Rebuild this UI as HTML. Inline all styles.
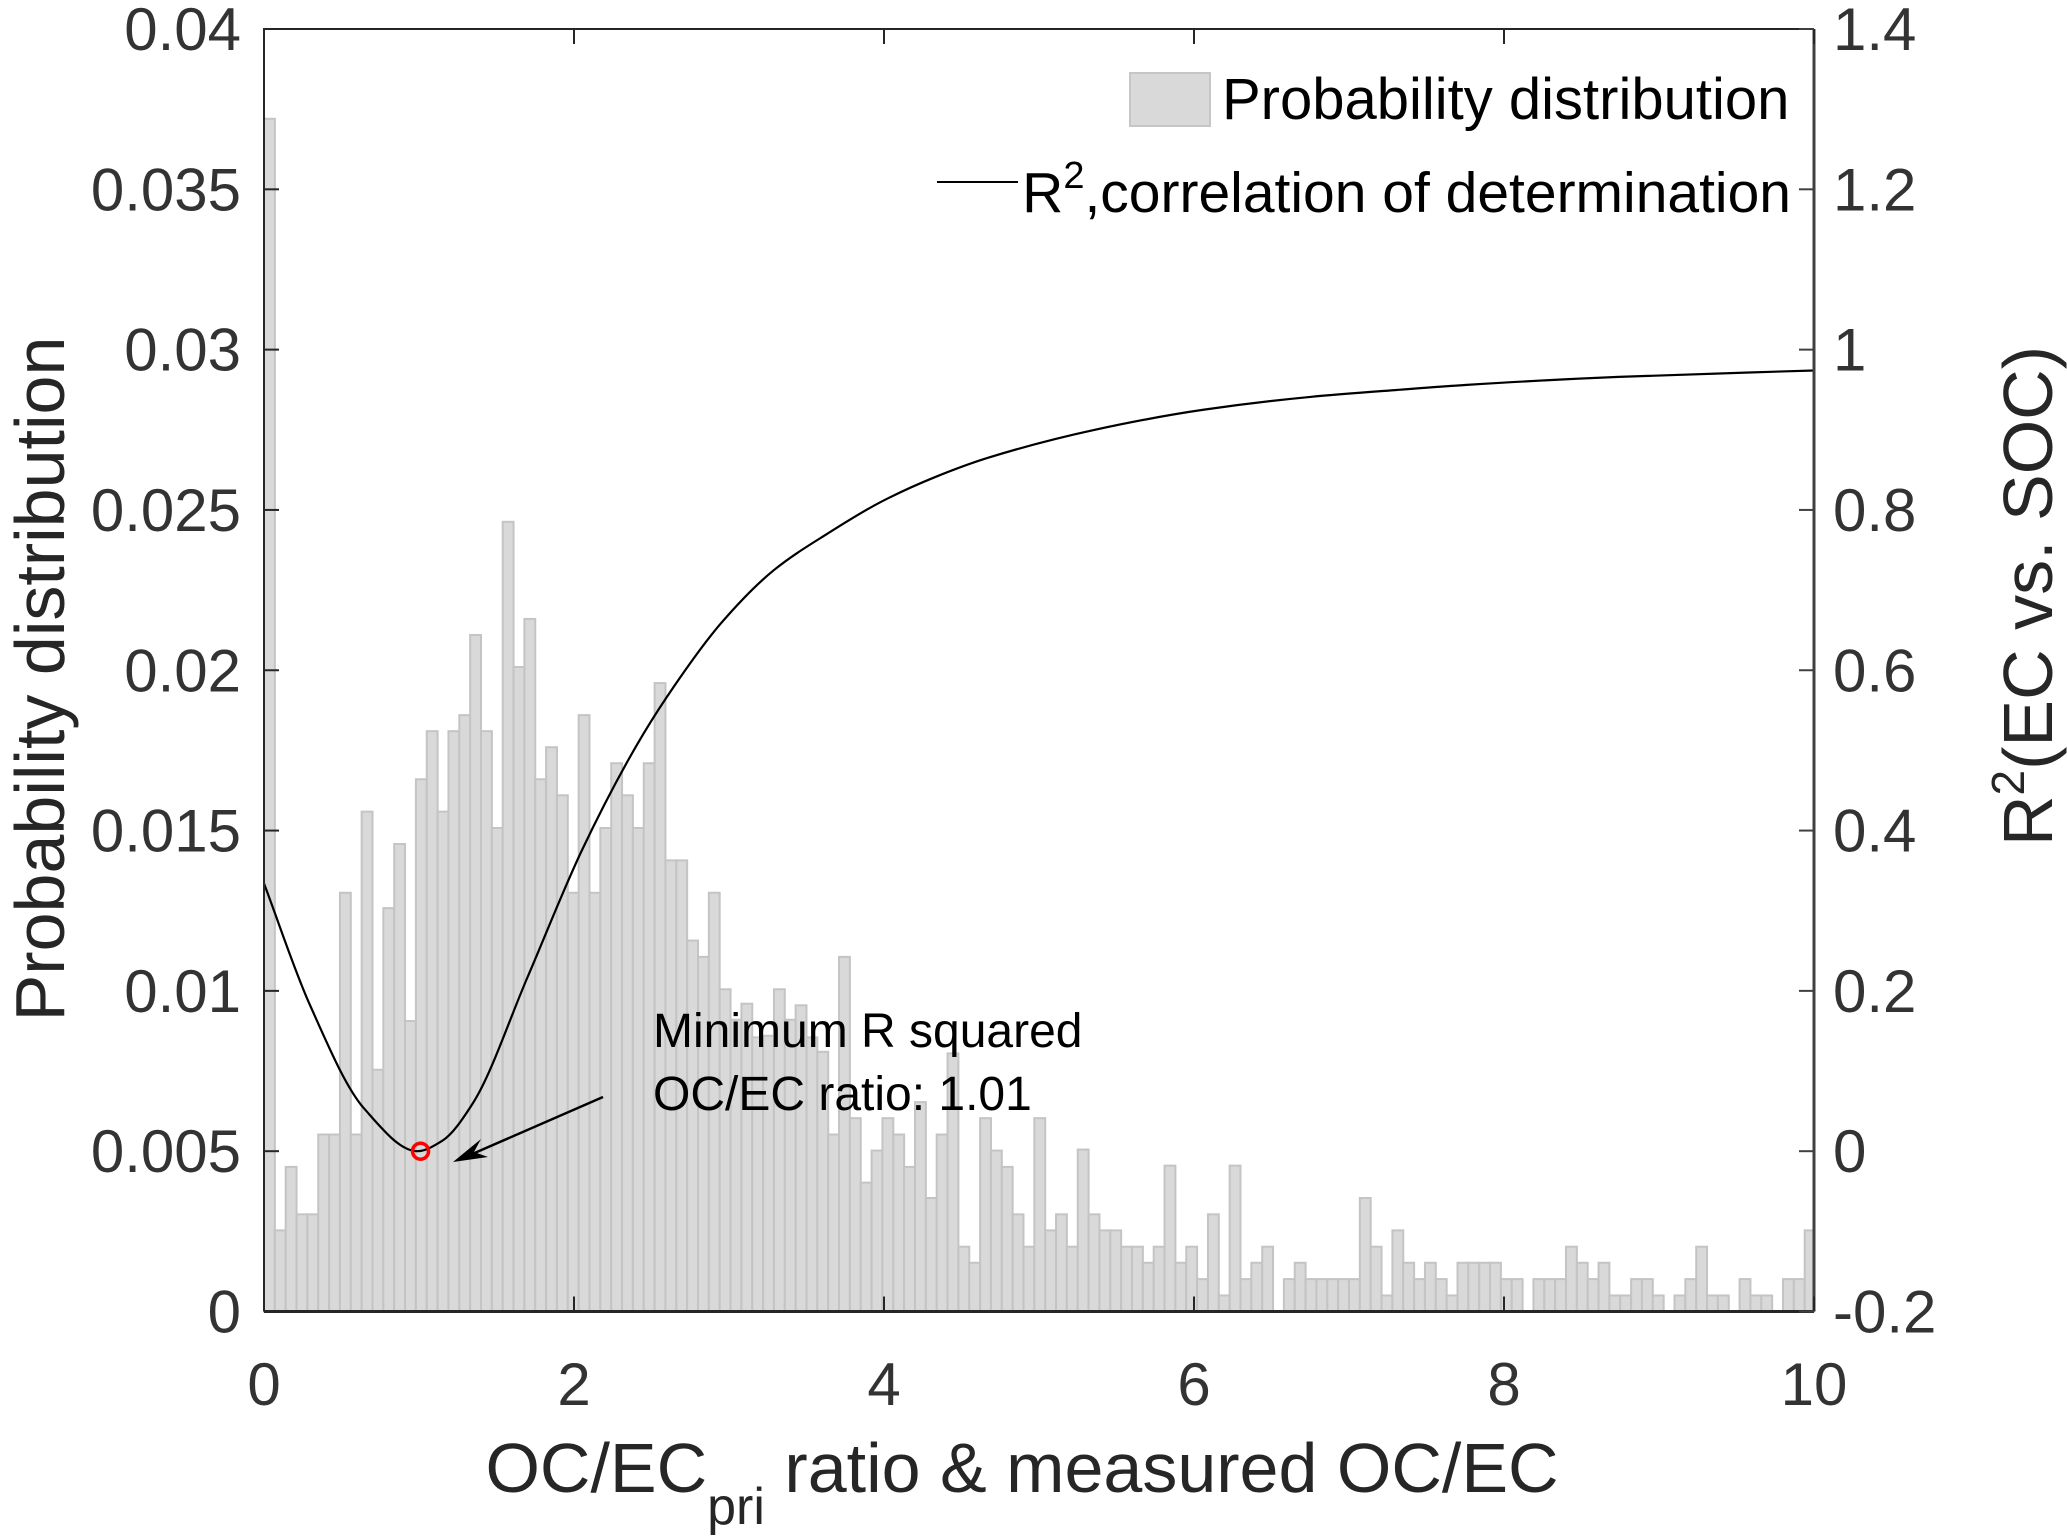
<!DOCTYPE html>
<html>
<head>
<meta charset="utf-8">
<style>
  html, body { margin: 0; padding: 0; background: #fff; }
  svg { display: block; font-family: "Liberation Sans", Arial, sans-serif; }
</style>
</head>
<body>
<svg id="chart" width="2067" height="1537" viewBox="0 0 2067 1537" xmlns="http://www.w3.org/2000/svg">
  <rect x="0" y="0" width="2067" height="1537" fill="#ffffff"/>
  <g id="bars"></g>
  <g id="curve"></g>
  <g id="axes"></g>
  <g id="legend">
    <rect x="1130" y="73" width="80" height="53" fill="#d9d9d9" stroke="#c6c6c6" stroke-width="2"/>
    <text x="1222" y="119" font-size="58" fill="#000">Probability distribution</text>
    <line x1="937" y1="182" x2="1018" y2="182" stroke="#000" stroke-width="2"/>
    <text x="1791" y="212" font-size="57" fill="#000" text-anchor="end">R<tspan dy="-24" font-size="38">2</tspan><tspan dy="24">,correlation of determination</tspan></text>
  </g>
  <g id="annotation">
    <text x="653" y="1047" font-size="48" fill="#000">Minimum R squared</text>
    <text x="653" y="1110" font-size="48" fill="#000">OC/EC ratio: 1.01</text>
    <line x1="603" y1="1097" x2="470" y2="1155" stroke="#000" stroke-width="2.5"/>
    <polygon points="453,1162 481,1139 474,1152 488,1157" fill="#000"/>
  </g>
  <text x="64" y="679" font-size="70" fill="#262626" text-anchor="middle" transform="rotate(-90 64 679)">Probability distribution</text>
  <text x="2052" y="596" font-size="70" fill="#262626" text-anchor="middle" transform="rotate(-90 2052 596)">R<tspan dy="-28" font-size="46">2</tspan><tspan dy="28">(EC vs. SOC)</tspan></text>
  <text x="1022" y="1492" font-size="70" fill="#262626" text-anchor="middle">OC/EC<tspan dy="32" font-size="52">pri</tspan><tspan dy="-32"> ratio &amp; measured OC/EC</tspan></text>
</svg>
<script>
// ---- data ----
const binWidth = 0.07;
const binProb = [
0.0372,0.00253,0.00451,0.00303,0.00303,0.00552,0.00552,0.01306,0.00552,0.01559,
0.00754,0.01258,0.01458,0.00906,0.0166,0.0181,0.01559,0.0181,0.0186,0.0211,
0.0181,0.01508,0.02463,0.0201,0.0216,0.0166,0.0176,0.0161,0.01306,0.0186,
0.01306,0.01508,0.0171,0.0161,0.01508,0.0171,0.0196,0.01407,0.01407,0.01157,
0.01106,0.01306,0.01005,0.0091,0.0096,0.00855,0.0086,0.01005,0.0091,0.00955,
0.00855,0.0081,0.00552,0.01106,0.00603,0.00402,0.00502,0.00603,0.00552,0.00451,
0.00653,0.00354,0.00552,0.00805,0.00202,0.00152,0.00603,0.00502,0.00451,0.00303,
0.00202,0.00603,0.00253,0.00303,0.00202,0.00505,0.00303,0.00253,0.00253,0.00202,
0.00202,0.00152,0.00202,0.00455,0.00152,0.00202,0.00101,0.00303,0.0005,0.00455,
0.00101,0.00152,0.00202,0,0.00101,0.00152,0.00101,0.00101,0.00101,0.00101,
0.00101,0.00354,0.00202,0.0005,0.00253,0.00152,0.00101,0.00152,0.00101,0.0005,
0.00152,0.00152,0.00152,0.00152,0.00101,0.00101,0,0.00101,0.00101,0.00101,
0.00202,0.00152,0.00101,0.00152,0.0005,0.0005,0.00101,0.00101,0.0005,0,
0.0005,0.00101,0.00202,0.0005,0.0005,0,0.00101,0.0005,0.0005,0,
0.00101,0.00101,0.00253
];
const curveX = [0,0.295,0.647,0.99,1.15,1.348,1.70,2.05,2.40,2.60,2.95,3.29,3.64,3.98,4.33,4.67,5.36,6.06,6.75,7.33,7.76,8.74,10];
const curveR2 = [0.334,0.183,0.053,0,0.013,0.060,0.217,0.375,0.505,0.567,0.659,0.725,0.771,0.810,0.841,0.865,0.900,0.925,0.941,0.950,0.956,0.966,0.974];
const minPointX = [1.01];
const minPointR2 = [0];
const xTicks = [0,2,4,6,8,10];
const xTickLabels = ["0","2","4","6","8","10"];
const yLeftTicks = [0,0.005,0.01,0.015,0.02,0.025,0.03,0.035,0.04];
const yLeftLabels = ["0","0.005","0.01","0.015","0.02","0.025","0.03","0.035","0.04"];
const yRightTicks = [-0.2,0,0.2,0.4,0.6,0.8,1,1.2,1.4];
const yRightLabels = ["-0.2","0","0.2","0.4","0.6","0.8","1","1.2","1.4"];

// ---- geometry ----
const L = 264, R = 1814, T = 29, B = 1311.5;
const NS = "http://www.w3.org/2000/svg";
function xs(v){ return L + (v/10)*(R-L); }
function yl(v){ return B - (v/0.04)*(B-T); }
function yr(v){ return B - ((v+0.2)/1.6)*(B-T); }
function mk(tag, attrs, parent){
  const e = document.createElementNS(NS, tag);
  for (const k in attrs) e.setAttribute(k, attrs[k]);
  parent.appendChild(e);
  return e;
}

// bars
const gb = document.getElementById('bars');
binProb.forEach((p, i) => {
  if (p <= 0) return;
  const x0 = xs(i*binWidth), x1 = Math.min(xs((i+1)*binWidth), R);
  const r = mk('rect', {x: x0, y: yl(p), width: x1-x0, height: B-yl(p), fill:'#d9d9d9', stroke:'#c4c4c4', 'stroke-width':2}, gb);
  
  
});

// curve (monotone cubic, Fritsch-Carlson)
const gc = document.getElementById('curve');
const n = curveX.length;
const dk = [], m = [];
for (let i=0;i<n-1;i++) dk.push((curveR2[i+1]-curveR2[i])/(curveX[i+1]-curveX[i]));
m[0] = dk[0]; m[n-1] = dk[n-2];
for (let i=1;i<n-1;i++){
  if (dk[i-1]*dk[i] <= 0) m[i] = 0;
  else {
    const h0 = curveX[i]-curveX[i-1], h1 = curveX[i+1]-curveX[i];
    const w1 = 2*h1+h0, w2 = h1+2*h0;
    m[i] = (w1+w2)/(w1/dk[i-1]+w2/dk[i]);
  }
}
let d = `M${xs(curveX[0])},${yr(curveR2[0])}`;
for (let i=0;i<n-1;i++){
  const h = curveX[i+1]-curveX[i];
  const x1 = curveX[i]+h/3, y1 = curveR2[i]+m[i]*h/3;
  const x2 = curveX[i+1]-h/3, y2 = curveR2[i+1]-m[i+1]*h/3;
  d += ` C${xs(x1)},${yr(y1)} ${xs(x2)},${yr(y2)} ${xs(curveX[i+1])},${yr(curveR2[i+1])}`;
}
const path = mk('path', {d: d, fill:'none', stroke:'#000', 'stroke-width':2.2}, gc);


minPointX.forEach((x,i)=>{
  const c = mk('circle', {cx: xs(x), cy: yr(minPointR2[i]), r: 8, fill:'none', stroke:'#ff0000', 'stroke-width':3.5}, gc);
  
  
});

// axes
const ga = document.getElementById('axes');
const axCol = '#262626';
const box = mk('path', {d:`M${L},${B} L${L},${T} L${R},${T}`, fill:'none', stroke:axCol, 'stroke-width':2}, ga);


const xAxis = mk('line', {x1:L, y1:B, x2:R, y2:B, stroke:axCol, 'stroke-width':3}, ga);


const rAxis = mk('line', {x1:R, y1:B, x2:R, y2:T, stroke:'#404040', 'stroke-width':3}, ga);



xTicks.forEach((v,i)=>{
  const x = xs(v);
  const t1 = mk('line', {x1:x, y1:B, x2:x, y2:B-15, stroke:axCol, 'stroke-width':2}, ga);
  
  
  const t2 = mk('line', {x1:x, y1:T, x2:x, y2:T+15, stroke:axCol, 'stroke-width':2}, ga);
  
  
  const tx = mk('text', {x:x, y:1405, 'font-size':60, fill:'#333', 'text-anchor':'middle'}, ga);
  tx.textContent = xTickLabels[i];
  
  
});
yLeftTicks.forEach((v,i)=>{
  const y = yl(v);
  const t = mk('line', {x1:L, y1:y, x2:L+15, y2:y, stroke:axCol, 'stroke-width':2}, ga);
  
  
  const tx = mk('text', {x:241, y:y+21, 'font-size':60, fill:'#333', 'text-anchor':'end'}, ga);
  tx.textContent = yLeftLabels[i];
  
  
});
yRightTicks.forEach((v,i)=>{
  const y = yr(v);
  const t = mk('line', {x1:R, y1:y, x2:R-15, y2:y, stroke:'#404040', 'stroke-width':2}, ga);
  
  
  const tx = mk('text', {x:1833, y:y+21, 'font-size':60, fill:'#333', 'text-anchor':'start'}, ga);
  tx.textContent = yRightLabels[i];
  
  
});
</script>
</body>
</html>
